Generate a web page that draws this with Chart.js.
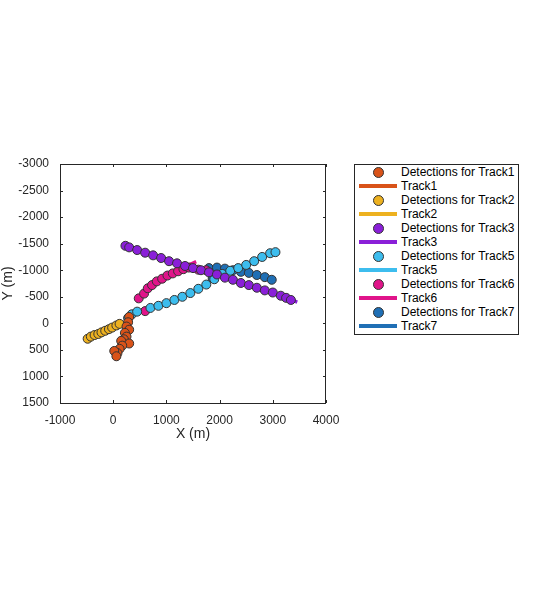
<!DOCTYPE html>
<html><head><meta charset="utf-8">
<script src="https://cdn.jsdelivr.net/npm/chart.js@4"></script>
<style>
body{margin:0;background:#fff;font-family:"Liberation Sans",Arial,sans-serif;}
#wrap{position:relative;width:553px;height:590px;}
#leg{position:absolute;left:354px;top:164px;width:163px;height:169px;border:1px solid #262626;background:#fff;font-size:12px;color:#000;}
.it{height:14px;display:flex;align-items:center;}
.sym{width:46px;display:flex;justify-content:center;align-items:center;}
</style></head><body>
<div id="wrap"><canvas id="c" width="553" height="590"></canvas><div id="leg"></div></div>
<script>
const trackNames=["Track1","Track2","Track3","Track5","Track6","Track7"];
const colors=["#D95319","#EDB120","#8A1FD8","#3DBDEE","#E0148A","#1F6FB5"];
const det1=[[300,-120],[280,-20],[250,60],[300,120],[220,180],[250,250],[200,300],[150,330],[300,380],[170,420],[120,480],[80,560],[20,520],[60,620]];
const det2=[[-480,290],[-420,250],[-350,220],[-280,200],[-220,170],[-150,140],[-80,110],[-20,80],[60,40],[120,10]];
const det3=[[230,-1460],[300,-1430],[450,-1380],[600,-1330],[750,-1280],[900,-1230],[1050,-1170],[1200,-1130],[1350,-1080],[1500,-1040],[1650,-1000],[1800,-960],[1950,-920],[2100,-860],[2250,-820],[2400,-760],[2550,-720],[2700,-670],[2850,-620],[3000,-580],[3150,-520],[3250,-480],[3340,-440]];
const det5=[[280,-100],[350,-170],[450,-220],[700,-290],[850,-330],[1000,-380],[1150,-440],[1300,-500],[1450,-570],[1600,-650],[1750,-730],[1900,-830],[2050,-930],[2200,-990],[2350,-1040],[2500,-1100],[2650,-1170],[2800,-1250],[2950,-1320],[3050,-1340]];
const det6=[[480,-470],[580,-560],[650,-660],[730,-720],[820,-790],[920,-840],[1020,-900],[1120,-940],[1220,-980],[1320,-1020],[1420,-1050],[1600,-1010],[1750,-1000],[600,-230]];
const det7=[[1800,-1040],[1950,-1050],[2100,-1030],[2250,-1000],[2400,-970],[2550,-950],[2700,-910],[2850,-870],[2980,-820],[1870,-850]];
const trk1=[[330,-170],[280,0],[230,180],[180,330],[130,480],[80,600]];
const trk2=[[-480,300],[-300,210],[-150,140],[0,70],[120,10]];
const trk3=[[230,-1470],[600,-1330],[1000,-1180],[1400,-1060],[1800,-950],[2200,-830],[2600,-700],[3000,-570],[3460,-400]];
const trk5=[[250,-50],[400,-200],[700,-290],[1000,-380],[1300,-500],[1600,-650],[1900,-850],[2200,-990],[2500,-1100],[2800,-1240],[3100,-1380]];
const trk6=[[480,-470],[650,-650],[800,-780],[1000,-900],[1200,-1000],[1400,-1090],[1560,-1160]];
const trk7=[[1800,-1050],[2100,-1040],[2400,-980],[2700,-910],[3000,-830]];
const dets=[det1,det2,det3,det5,det6,det7], trks=[trk1,trk2,trk3,trk5,trk6,trk7];
const xy=a=>a.map(p=>({x:p[0],y:p[1]}));
const ds=[];
for(let i=0;i<6;i++){
 ds.push({type:'line',data:xy(trks[i]),borderColor:colors[i],borderWidth:3.5,pointRadius:0,tension:0.3,order:2});
 ds.push({type:'scatter',data:xy(dets[i]),backgroundColor:colors[i],borderColor:'#333',borderWidth:1,pointRadius:4.5,order:1});
}
const box={id:'box',afterDraw(c){const a=c.chartArea,g=c.ctx;g.save();g.strokeStyle='#262626';g.lineWidth=1;g.strokeRect(a.left+.5,a.top+.5,a.right-a.left-1,a.bottom-a.top);
 g.beginPath();c.scales.x.ticks.forEach(t=>{const p=Math.round(c.scales.x.getPixelForValue(t.value))+.5;g.moveTo(p,a.bottom);g.lineTo(p,a.bottom-3);g.moveTo(p,a.top);g.lineTo(p,a.top+3);});
 c.scales.y.ticks.forEach(t=>{const p=Math.round(c.scales.y.getPixelForValue(t.value))+.5;g.moveTo(a.left,p);g.lineTo(a.left+3,p);g.moveTo(a.right,p);g.lineTo(a.right-3,p);});g.stroke();g.restore();}};
const tf={family:"'Liberation Sans',Arial",size:12};
new Chart(document.getElementById('c'),{data:{datasets:ds},plugins:[box],options:{responsive:false,animation:false,
 layout:{padding:{top:164,right:227,left:0,bottom:147}},
 plugins:{legend:{display:false},tooltip:{enabled:false}},
 scales:{x:{type:'linear',min:-1000,max:4000,ticks:{stepSize:1000,color:'#262626',font:tf,maxRotation:0,padding:2,callback:v=>String(v)},grid:{display:false},border:{display:false},
   title:{display:true,text:'X (m)',color:'#262626',font:{family:tf.family,size:14},padding:{top:2,bottom:0}},afterFit(s){s.height=40;}},
  y:{type:'linear',reverse:true,min:-3000,max:1500,ticks:{stepSize:500,color:'#262626',font:tf,callback:v=>String(v)},grid:{display:false},border:{display:false},
   title:{display:true,text:'Y (m)',color:'#262626',font:{family:tf.family,size:14},padding:0},afterFit(s){s.width=60;}}}}});
const leg=document.getElementById('leg');
for(let i=0;i<6;i++){
 leg.insertAdjacentHTML('beforeend',`<div class="it"><div class="sym"><span style="width:9px;height:9px;border-radius:50%;background:${colors[i]};border:1px solid #333"></span></div>Detections for ${trackNames[i]}</div>`);
 leg.insertAdjacentHTML('beforeend',`<div class="it"><div class="sym"><span style="width:38px;height:3.5px;background:${colors[i]}"></span></div>${trackNames[i]}</div>`);
}
</script></body></html>
